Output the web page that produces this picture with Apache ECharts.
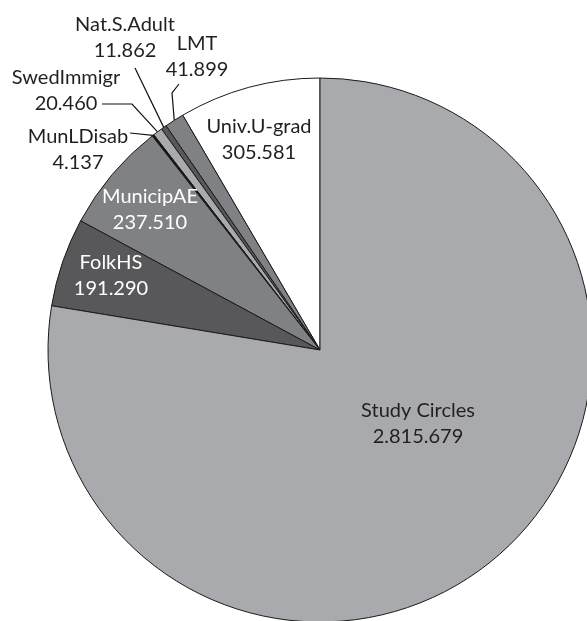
<!DOCTYPE html>
<html>
<head>
<meta charset="utf-8">
<script src="https://cdn.jsdelivr.net/npm/echarts@6/dist/echarts.min.js"></script>
<style>
  html, body { margin: 0; padding: 0; background: #fff; }
  #chart { width: 587px; height: 621px; }
</style>
</head>
<body>
<div id="chart"></div>
<script>
// slices, counter-clockwise from 12 o'clock
const categories = ['Univ.U-grad', 'LMT', 'Nat.S.Adult', 'SwedImmigr', 'MunLDisab', 'MunicipAE', 'FolkHS', 'Study Circles'];
const participants = [305581, 41899, 11862, 20460, 4137, 237510, 191290, 2815679];

// fills and label colours per slice
const sliceColors = ['#ffffff', '#808185', '#58585b', '#a9aaad', '#111111', '#808185', '#58585b', '#a9aaad'];
const textColors = ['#231f20', '#231f20', '#231f20', '#231f20', '#231f20', '#ffffff', '#ffffff', '#231f20'];

// where each label sits (centre of the text block) and the leader line, if any
const labelSpots = [
  { x: 259, y: 140 },
  { x: 197, y: 57, line: [[179, 84], [172, 93]] },
  { x: 125, y: 38, line: [[135, 68]] },
  { x: 66, y: 91, line: [[102, 104], [132, 104]] },
  { x: 78, y: 150, line: [[130, 133]] },
  { x: 150, y: 210 },
  { x: 111, y: 276 },
  { x: 418, y: 424 }
];

const fmt = v => String(v).replace(/\B(?=(\d{3})+(?!\d))/g, '.');

const chart = echarts.init(document.getElementById('chart'));

const seriesData = categories.map((name, i) => {
  const outside = !!labelSpots[i].line;
  return {
    name,
    value: participants[i],
    itemStyle: { color: sliceColors[i] },
    label: { position: outside ? 'outside' : 'inside', color: textColors[i] },
    labelLine: { show: outside }
  };
});

chart.setOption({
  animation: false,
  series: [{
    type: 'pie',
    center: [320, 350],
    radius: 272,
    startAngle: 90,
    clockwise: false,
    avoidLabelOverlap: false,
    itemStyle: { borderColor: '#1a1a1a', borderWidth: 1 },
    emphasis: { disabled: true },
    label: {
      show: true,
      fontFamily: 'Lato',
      fontSize: 20,
      lineHeight: 26,
      align: 'center',
      formatter: p => p.name + '\n' + fmt(p.value)
    },
    labelLine: {
      lineStyle: { color: '#111', width: 1.2 }
    },
    labelLayout: function (params) {
      const spot = labelSpots[params.dataIndex];
      const res = { x: spot.x, y: spot.y, align: 'center', verticalAlign: 'middle' };
      if (spot.line && params.labelLinePoints) {
        const edge = params.labelLinePoints[0];
        res.labelLinePoints = [edge].concat(spot.line.slice().reverse());
      }
      return res;
    },
    data: seriesData
  }]
});
</script>
</body>
</html>
